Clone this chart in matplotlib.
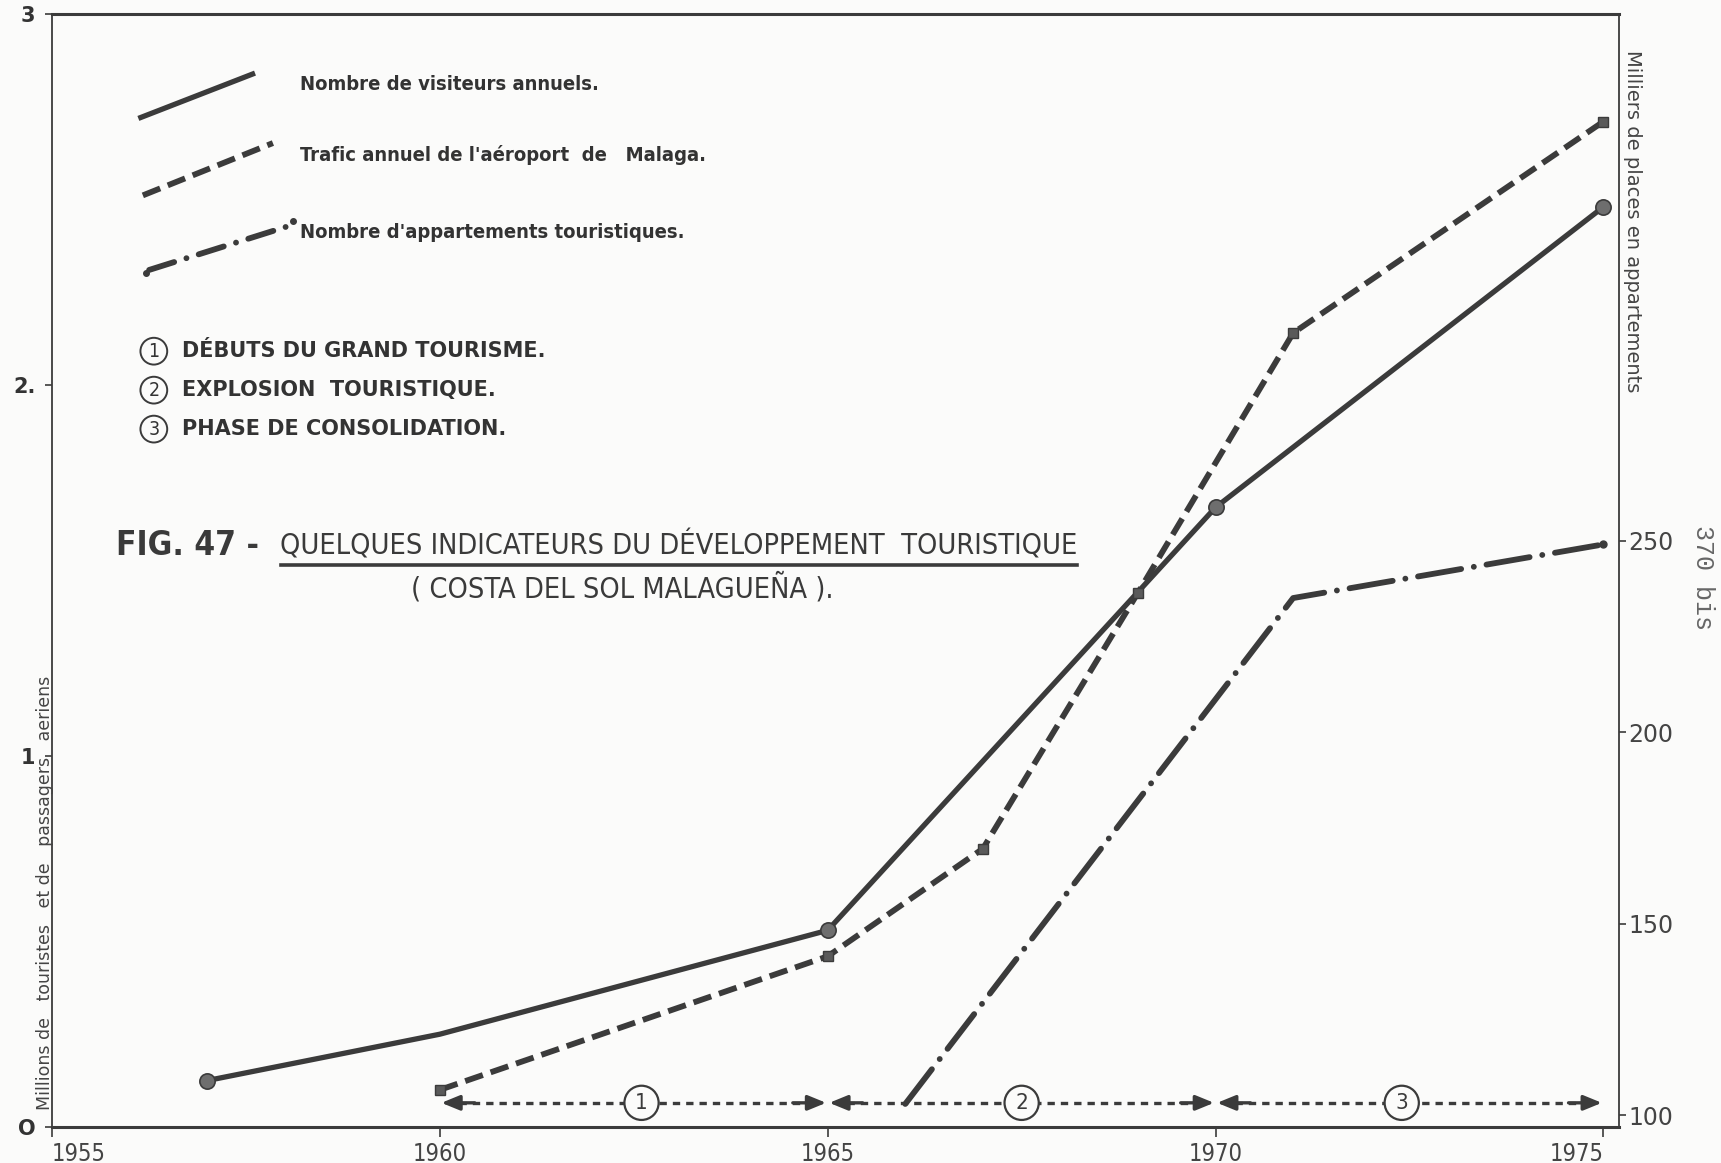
"""Fig. 47 - quelques indicateurs du développement touristique (Costa del Sol)."""
import matplotlib
matplotlib.use("Agg")
import matplotlib.pyplot as plt
from matplotlib.lines import Line2D

# --- données --------------------------------------------------------------
vis_years = [1957, 1960, 1965, 1970, 1975]
vis_vals = [0.125, 0.25, 0.53, 1.67, 2.48]          # millions de visiteurs

air_years = [1960, 1965, 1967, 1969, 1971, 1975]
air_vals = [0.10, 0.46, 0.75, 1.44, 2.14, 2.71]     # millions de passagers

apt_years = [1966, 1971, 1975]
apt_vals = [103, 235, 249]                          # milliers de places

period_bounds = [1960, 1965, 1970, 1975]
period_labels = ["1", "2", "3"]
period_label_x = [1962.6, 1967.5, 1972.4]
period_names = ["DÉBUTS DU GRAND TOURISME.", "EXPLOSION  TOURISTIQUE.",
                "PHASE DE CONSOLIDATION."]

x_ticks = [1955, 1960, 1965, 1970, 1975]
left_ticks = [0, 1, 2, 3]
left_ticklabels = ["O", "1", "2.", "3"]
right_ticks = [100, 150, 200, 250]
right_ticklabels = ["100", "150", "200", "250"]

INK = "#3b3b3b"
PAPER = "#fbfbfa"
COND = dict(family="DejaVu Sans", stretch="condensed")

fig = plt.figure(figsize=(17.21, 11.63), dpi=100, facecolor=PAPER)
ax = fig.add_axes([0.0302, 0.031, 0.9105, 0.957])
ax.set_facecolor(PAPER)
ax2 = ax.twinx()

ax.set_xlim(1955, 1975.2)
ax.set_ylim(0, 3)
ax2.set_ylim(97, 387.4)

# courbes
ax.plot(vis_years, vis_vals, "-", color=INK, lw=3.8, solid_capstyle="round",
        zorder=4)
ax.plot(vis_years[0:1] + vis_years[2:], vis_vals[0:1] + vis_vals[2:], "o",
        ms=11, mfc="#6e6e6e", mec=INK, mew=1.2, zorder=5)
ax.plot(air_years, air_vals, "--", color=INK, lw=4.2, dashes=(3.2, 1.4),
        zorder=4)
ax.plot(air_years, air_vals, "s", ms=7, mfc="#5a5a5a", mec=INK, zorder=5)
ax2.plot(apt_years, apt_vals, color=INK, lw=4.2, dashes=(7.5, 2.2, 0.01, 2.2),
         dash_capstyle="round", zorder=4)
ax2.plot(apt_years[-1:], apt_vals[-1:], "o", ms=5, color=INK, zorder=5)

# périodes (flèches en bas)
y_arr = 0.065
for i, lab in enumerate(period_labels):
    x0, x1 = period_bounds[i], period_bounds[i + 1]
    ax.plot([x0 + 0.25, x1 - 0.25], [y_arr, y_arr], color=INK, lw=2.4,
            dashes=(2.2, 1.8), zorder=3)
    ax.annotate("", xy=(x0 + 0.02, y_arr), xytext=(x0 + 0.45, y_arr),
                arrowprops=dict(arrowstyle="-|>,head_length=1.1,head_width=0.45",
                                color=INK, lw=2.4, shrinkA=0, shrinkB=0))
    ax.annotate("", xy=(x1 - 0.02, y_arr), xytext=(x1 - 0.45, y_arr),
                arrowprops=dict(arrowstyle="-|>,head_length=1.1,head_width=0.45",
                                color=INK, lw=2.4, shrinkA=0, shrinkB=0))
    ax.text(period_label_x[i], y_arr, lab, ha="center", va="center",
            fontsize=16, color=INK, zorder=6, **COND,
            bbox=dict(boxstyle="circle,pad=0.32", fc=PAPER, ec=INK, lw=1.6))

# axes
for side in ("top", "bottom"):
    ax.spines[side].set_linewidth(2.2)
    ax.spines[side].set_color(INK)
for side in ("left", "right"):
    ax.spines[side].set_linewidth(1.3)
    ax.spines[side].set_color(INK)
ax2.spines[:].set_visible(False)

ax.set_xticks(x_ticks)
ax.set_xticklabels([str(t) for t in x_ticks], fontsize=17, color="#444",
                   **COND)
ax.tick_params(axis="x", direction="out", length=7, width=1.2, pad=4,
               color=INK)
xl = ax.get_xticklabels()
xl[0].set_ha("left")
xl[-1].set_ha("right")

ax.set_yticks(left_ticks)
ax.set_yticklabels(left_ticklabels, fontsize=15, fontweight="bold",
                   color="#333")
ax.tick_params(axis="y", direction="out", length=5, width=1.2, pad=7,
               color=INK)

ax2.set_yticks(right_ticks)
ax2.set_yticklabels(right_ticklabels, fontsize=17, color="#444")
ax2.tick_params(axis="y", direction="out", length=5, width=1.2, pad=2,
                color=INK)

ax.text(0.0015, 0.015, "Millions de   touristes   et de   passagers   aeriens",
        transform=ax.transAxes, rotation=90, ha="right", va="bottom",
        fontsize=12.5, color="#444")
ax.text(1.0085, 0.968, "Milliers de places en appartements",
        transform=ax.transAxes, rotation=270, ha="center", va="top",
        fontsize=14, color="#444")
ax.text(1.046, 0.494, "370 bis", transform=ax.transAxes, rotation=270,
        ha="left", va="center", fontsize=18, color="#666",
        family="Liberation Mono")

# légende (échantillons inclinés)
T = ax.transAxes
ax.add_line(Line2D([0.0567, 0.128], [0.907, 0.946], transform=T, color=INK,
                   lw=3.8))
ax.add_line(Line2D([0.058, 0.141], [0.837, 0.884], transform=T, color=INK,
                   lw=4.2, dashes=(3.2, 1.4)))
ax.add_line(Line2D([0.062, 0.150], [0.770, 0.809], transform=T, color=INK,
                   lw=4.2, dashes=(4.5, 2.2, 0.01, 2.2),
                   dash_capstyle="round"))
ax.add_line(Line2D([0.060, 0.154], [0.767, 0.814], transform=T, color=INK,
                   lw=0, marker="o", ms=4))
leg_txt = ["Nombre de visiteurs annuels.",
           "Trafic annuel de l'aéroport  de   Malaga.",
           "Nombre d'appartements touristiques."]
for s, y in zip(leg_txt, [0.937, 0.873, 0.804]):
    ax.text(0.158, y, s, transform=T, ha="left", va="center", fontsize=14.5,
            fontweight="bold", color="#333", **COND)

# périodes (liste)
for lab, name, y in zip(period_labels, period_names, [0.697, 0.662, 0.627]):
    ax.text(0.065, y, lab, transform=T, ha="center", va="center",
            fontsize=14, color="#333", **COND,
            bbox=dict(boxstyle="circle,pad=0.2", fc="none", ec=INK, lw=1.4))
    ax.text(0.083, y, name, transform=T, ha="left", va="center",
            fontsize=15, fontweight="bold", color="#333",
            family="DejaVu Sans")

# titre
ax.text(0.0406, 0.522, "FIG. 47 -", transform=T, ha="left", va="center",
        fontsize=24, fontweight="bold", color="#3a3a3a", **COND)
ax.text(0.1455, 0.522, "QUELQUES INDICATEURS DU DÉVELOPPEMENT  TOURISTIQUE",
        transform=T, ha="left", va="center", fontsize=20.7, color="#3a3a3a",
        **COND)
ax.add_line(Line2D([0.146, 0.654], [0.505, 0.505], transform=T, color=INK,
                   lw=2.6))
ax.text(0.364, 0.484, "( COSTA DEL SOL MALAGUEÑA ).", transform=T,
        ha="center", va="center", fontsize=20.7, color="#3a3a3a", **COND)

fig.savefig("out.png", dpi=100, facecolor=PAPER)
